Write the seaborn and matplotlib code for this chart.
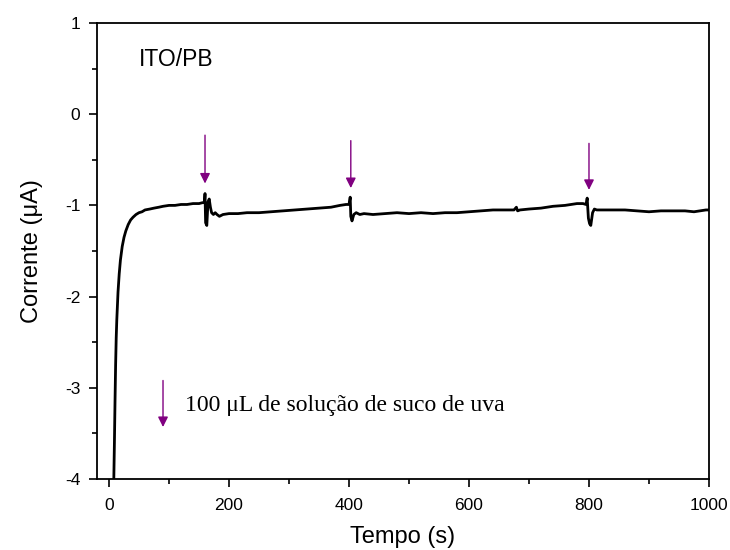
import numpy as np
import pandas as pd
import matplotlib
matplotlib.use("Agg")
import matplotlib.pyplot as plt
from matplotlib.ticker import MultipleLocator
import seaborn as sns

# tempo (s) e corrente (uA)
tempo = [8, 9, 10, 11, 12, 13, 15, 17, 19, 22, 25, 28, 32, 36, 40, 45, 50, 55, 60, 68,
         75, 83, 90, 100, 110, 120, 130, 140, 150, 156, 159, 160, 161, 163, 165, 167,
         169, 171, 174, 177, 180, 184, 190, 200, 215, 230, 250, 270, 290, 310, 330,
         350, 370, 385, 395, 400, 402, 403, 405, 408, 412, 418, 425, 440, 460, 480,
         500, 520, 540, 560, 580, 600, 620, 640, 660, 675, 679, 681, 685, 700, 720,
         740, 760, 780, 790, 795, 797, 799, 801, 803, 806, 809, 813, 820, 840, 860,
         880, 900, 920, 940, 960, 975, 985, 995, 1000]
corrente = [-4.00, -3.60, -3.15, -2.75, -2.45, -2.25, -1.95, -1.75, -1.60, -1.45, -1.35,
            -1.28, -1.21, -1.16, -1.13, -1.10, -1.08, -1.07, -1.05, -1.04,
            -1.03, -1.02, -1.01, -1.00, -1.00, -0.99, -0.99, -0.98, -0.98, -0.97,
            -0.97, -0.87, -1.19, -1.22, -0.96, -0.93, -1.02, -1.08, -1.10, -1.08,
            -1.10, -1.12, -1.10, -1.09, -1.09, -1.08, -1.08, -1.07, -1.06, -1.05, -1.04,
            -1.03, -1.02, -1.00, -0.99, -0.99, -0.91, -1.12, -1.17, -1.10, -1.08,
            -1.10, -1.09, -1.10, -1.09, -1.08, -1.09, -1.08, -1.09, -1.08, -1.08,
            -1.07, -1.06, -1.05, -1.05, -1.05, -1.02, -1.06, -1.05, -1.04, -1.03,
            -1.01, -1.00, -0.98, -0.98, -0.99, -0.92, -1.14, -1.20, -1.22, -1.08,
            -1.04, -1.05, -1.05, -1.05, -1.05, -1.06, -1.07, -1.06, -1.06, -1.06,
            -1.07, -1.06, -1.05, -1.05]

# adicoes de suco de uva (s) e inicio/fim das setas (uA)
adicoes = [160, 403, 800]
seta_topo = [-0.23, -0.29, -0.32]
seta_fim = [-0.76, -0.81, -0.83]

df = pd.DataFrame({"Tempo (s)": tempo, "Corrente": corrente})

sns.set_theme(style="ticks")
plt.rcParams["font.family"] = ["Liberation Sans", "DejaVu Sans"]
plt.rcParams["axes.unicode_minus"] = False
plt.rcParams["text.color"] = "black"
plt.rcParams["axes.labelcolor"] = "black"

fig = plt.figure(figsize=(7.3, 5.5), dpi=100)
ax = fig.add_axes([0.1329, 0.1291, 0.8383, 0.8291])

sns.lineplot(data=df, x="Tempo (s)", y="Corrente", color="black", lw=2.0,
             sort=False, ax=ax)

for t, y0, y1 in zip(adicoes, seta_topo, seta_fim):
    ax.annotate("", xy=(t, y1), xytext=(t, y0),
                arrowprops=dict(arrowstyle="-|>", color="#800080", lw=1.0,
                                mutation_scale=15, shrinkA=0, shrinkB=0))

# legenda da seta
ax.annotate("", xy=(90, -3.43), xytext=(90, -2.92),
            arrowprops=dict(arrowstyle="-|>", color="#800080", lw=1.0,
                            mutation_scale=15, shrinkA=0, shrinkB=0))
ax.text(127, -3.19, "100 \u03bcL de solução de suco de uva", fontsize=17,
        family=["Liberation Serif", "DejaVu Serif"], va="center", ha="left")
ax.text(50, 0.60, "ITO/PB", fontsize=16.5, va="center", ha="left")

ax.set_xlim(-20, 1000)
ax.set_ylim(-4, 1)
ax.xaxis.set_major_locator(MultipleLocator(200))
ax.xaxis.set_minor_locator(MultipleLocator(100))
ax.yaxis.set_major_locator(MultipleLocator(1))
ax.yaxis.set_minor_locator(MultipleLocator(0.5))
ax.set_xlabel("Tempo (s)", fontsize=17, labelpad=9)
ax.set_ylabel("Corrente (\u03bcA)", fontsize=17, labelpad=16)

for s in ax.spines.values():
    s.set_visible(True)
    s.set_linewidth(1.3)
    s.set_color("black")

ax.tick_params(which="both", direction="out", width=1.2, colors="black",
               labelsize=12.5, top=False, right=False)
ax.tick_params(which="major", length=6)
ax.tick_params(which="minor", length=3.5)
ax.tick_params(axis="x", pad=8)
ax.tick_params(axis="y", pad=6)

fig.savefig("out.png", dpi=100)
